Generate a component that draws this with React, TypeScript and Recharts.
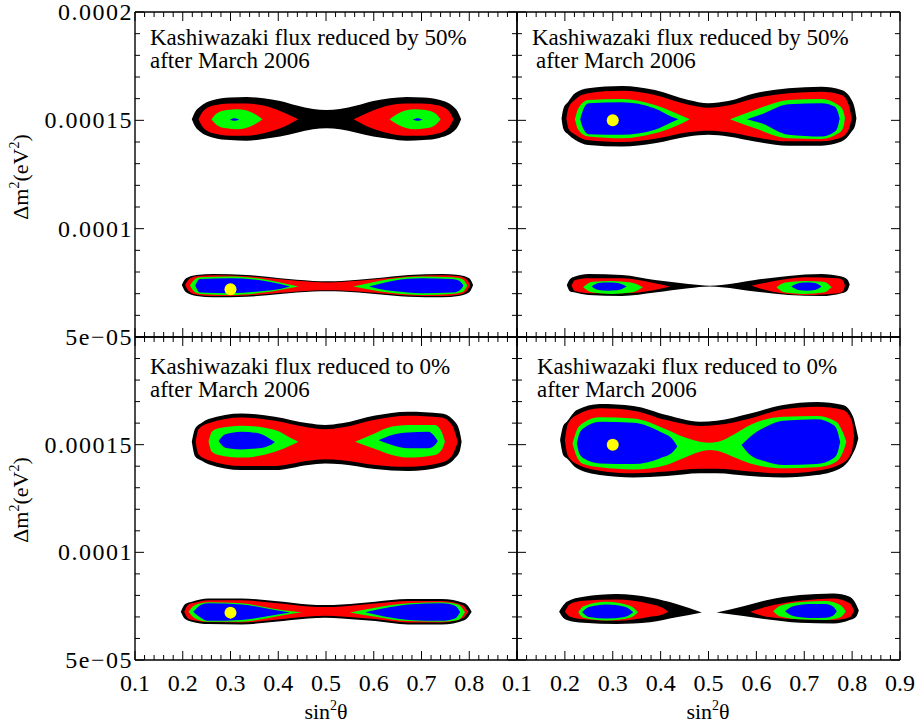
import { ComposedChart, Area, Scatter, XAxis, YAxis } from 'recharts';

const W = 917;
const H = 725;

const BLACK = '#000000';
const RED = '#ff0000';
const GREEN = '#00ff00';
const BLUE = '#0000ff';
const YELLOW = '#ffff00';
const SERIF = '"Liberation Serif", "Times New Roman", Times, serif';

// sin^2(theta) ticks, minor every 0.02
const X_TICKS = [0.1, 0.12, 0.14, 0.16, 0.18, 0.2, 0.22, 0.24, 0.26, 0.28, 0.3, 0.32, 0.34, 0.36, 0.38, 0.4,
  0.42, 0.44, 0.46, 0.48, 0.5, 0.52, 0.54, 0.56, 0.58, 0.6, 0.62, 0.64, 0.66, 0.68, 0.7, 0.72, 0.74, 0.76,
  0.78, 0.8, 0.82, 0.84, 0.86, 0.88, 0.9];
const X_MAJOR = [0.1, 0.2, 0.3, 0.4, 0.5, 0.6, 0.7, 0.8, 0.9];
const X_TICK_LABELS = ['0.1', '0.2', '0.3', '0.4', '0.5', '0.6', '0.7', '0.8', '0.9'];

// delta m^2 in units of 1e-5 eV^2, minor every 1e-5
const Y_TICKS = [5, 6, 7, 8, 9, 10, 11, 12, 13, 14, 15, 16, 17, 18, 19, 20];
const Y_MAJOR = [5, 10, 15, 20];
const Y_TICK_LABELS = ['5e\u221205', '0.0001', '0.00015', '0.0002'];

type Band = [number, number, number]; // [sin²θ, Δm² low, Δm² high]

// ---- top left: reduced by 50% (a) ----
const TL_UP_BLACK: Band[] = [[0.219, 15.05, 15.05], [0.226, 14.71, 15.4], [0.236, 14.48, 15.63], [0.264, 14.2, 15.94], [0.299, 14.09, 16.05], [0.334, 14.06, 16.08], [0.369, 14.14, 16.02], [0.404, 14.25, 15.89], [0.439, 14.43, 15.68], [0.473, 14.59, 15.52], [0.501, 14.63, 15.48], [0.529, 14.59, 15.52], [0.564, 14.43, 15.68], [0.599, 14.25, 15.89], [0.634, 14.14, 16.02], [0.669, 14.06, 16.08], [0.704, 14.09, 16.05], [0.739, 14.2, 15.94], [0.767, 14.48, 15.63], [0.776, 14.71, 15.4], [0.783, 15.05, 15.05]];
const TL_UP_RED_L: Band[] = [[0.233, 15.05, 15.05], [0.243, 14.66, 15.43], [0.264, 14.4, 15.68], [0.299, 14.29, 15.78], [0.334, 14.29, 15.78], [0.369, 14.4, 15.68], [0.404, 14.63, 15.43], [0.442, 15.05, 15.05]];
const TL_UP_RED_R: Band[] = [[0.558, 15.05, 15.05], [0.596, 14.63, 15.43], [0.631, 14.4, 15.68], [0.666, 14.29, 15.78], [0.701, 14.29, 15.78], [0.736, 14.4, 15.68], [0.757, 14.66, 15.43], [0.767, 15.05, 15.05]];
const TL_UP_GREEN_L: Band[] = [[0.26, 15.05, 15.05], [0.271, 14.79, 15.32], [0.292, 14.63, 15.48], [0.313, 14.59, 15.51], [0.334, 14.66, 15.45], [0.351, 14.82, 15.29], [0.367, 15.05, 15.05]];
const TL_UP_GREEN_R: Band[] = [[0.633, 15.05, 15.05], [0.649, 14.82, 15.29], [0.666, 14.66, 15.45], [0.687, 14.59, 15.51], [0.708, 14.63, 15.48], [0.729, 14.79, 15.32], [0.74, 15.05, 15.05]];
const TL_UP_BLUE_L: Band[] = [[0.299, 15.04, 15.04], [0.308, 14.98, 15.1], [0.318, 15.04, 15.04]];
const TL_UP_BLUE_R: Band[] = [[0.682, 15.04, 15.04], [0.692, 14.98, 15.1], [0.702, 15.04, 15.04]];
const TL_LO_BLACK: Band[] = [[0.198, 7.4, 7.4], [0.207, 7.06, 7.71], [0.229, 6.89, 7.86], [0.264, 6.83, 7.91], [0.334, 6.86, 7.86], [0.404, 6.99, 7.71], [0.473, 7.1, 7.59], [0.503, 7.11, 7.57], [0.533, 7.1, 7.59], [0.603, 6.99, 7.71], [0.673, 6.86, 7.86], [0.743, 6.83, 7.91], [0.778, 6.89, 7.86], [0.8, 7.06, 7.71], [0.808, 7.4, 7.4]];
const TL_LO_RED: Band[] = [[0.205, 7.4, 7.4], [0.213, 7.11, 7.66], [0.229, 6.95, 7.8], [0.264, 6.89, 7.85], [0.334, 6.92, 7.8], [0.404, 7.04, 7.66], [0.473, 7.15, 7.54], [0.503, 7.16, 7.52], [0.533, 7.15, 7.54], [0.603, 7.04, 7.66], [0.673, 6.92, 7.8], [0.743, 6.89, 7.85], [0.778, 6.95, 7.8], [0.794, 7.11, 7.66], [0.802, 7.4, 7.4]];
const TL_LO_GREEN_L: Band[] = [[0.215, 7.38, 7.38], [0.226, 7.06, 7.68], [0.236, 6.99, 7.76], [0.299, 6.94, 7.79], [0.369, 7.05, 7.66], [0.404, 7.17, 7.51], [0.442, 7.33, 7.33]];
const TL_LO_GREEN_R: Band[] = [[0.557, 7.33, 7.33], [0.596, 7.17, 7.51], [0.631, 7.05, 7.66], [0.701, 6.94, 7.79], [0.764, 6.99, 7.76], [0.786, 7.08, 7.67], [0.796, 7.38, 7.38]];
const TL_LO_BLUE_L: Band[] = [[0.226, 7.38, 7.38], [0.236, 7.05, 7.68], [0.299, 7.02, 7.71], [0.369, 7.12, 7.6], [0.404, 7.22, 7.45], [0.425, 7.33, 7.33]];
const TL_LO_BLUE_R: Band[] = [[0.59, 7.33, 7.33], [0.611, 7.22, 7.45], [0.641, 7.12, 7.6], [0.701, 7.02, 7.71], [0.764, 7.05, 7.68], [0.779, 7.14, 7.6], [0.788, 7.38, 7.38]];
const TL_BEST: [number, number][] = [[0.3, 7.2]];

// ---- top right: reduced by 50% (b) ----
const TR_UP_BLACK: Band[] = [[0.193, 15.09, 15.09], [0.197, 14.6, 15.55], [0.207, 14.35, 15.86], [0.221, 14.1, 16.25], [0.249, 13.86, 16.48], [0.319, 13.79, 16.59], [0.388, 13.94, 16.4], [0.458, 14.25, 15.94], [0.5, 14.33, 15.79], [0.541, 14.25, 15.89], [0.597, 14.02, 16.25], [0.667, 13.83, 16.48], [0.736, 13.83, 16.55], [0.778, 14.02, 16.4], [0.799, 14.48, 15.94], [0.806, 14.75, 15.5], [0.809, 15.09, 15.09]];
const TR_UP_RED: Band[] = [[0.203, 15.09, 15.09], [0.208, 14.6, 15.6], [0.221, 14.35, 15.95], [0.249, 14.08, 16.25], [0.319, 14.0, 16.36], [0.388, 14.15, 16.17], [0.458, 14.45, 15.72], [0.5, 14.52, 15.58], [0.541, 14.45, 15.68], [0.597, 14.22, 16.02], [0.667, 14.03, 16.25], [0.736, 14.03, 16.32], [0.778, 14.22, 16.17], [0.793, 14.6, 15.7], [0.799, 15.09, 15.09]];
const TR_UP_GREEN_L: Band[] = [[0.221, 15.05, 15.05], [0.228, 14.56, 15.55], [0.249, 14.25, 15.94], [0.319, 14.17, 15.99], [0.388, 14.4, 15.71], [0.437, 14.79, 15.28], [0.461, 15.05, 15.05]];
const TR_UP_GREEN_R: Band[] = [[0.545, 15.05, 15.05], [0.597, 14.63, 15.48], [0.667, 14.17, 15.94], [0.736, 14.14, 15.99], [0.771, 14.4, 15.71], [0.781, 14.65, 15.45], [0.785, 15.1, 15.1]];
const TR_UP_BLUE_L: Band[] = [[0.232, 15.05, 15.05], [0.238, 14.63, 15.48], [0.249, 14.36, 15.79], [0.319, 14.33, 15.83], [0.388, 14.56, 15.55], [0.423, 14.91, 15.17], [0.437, 15.05, 15.05]];
const TR_UP_BLUE_R: Band[] = [[0.58, 15.05, 15.05], [0.611, 14.86, 15.28], [0.667, 14.33, 15.74], [0.736, 14.25, 15.79], [0.764, 14.48, 15.63], [0.77, 14.7, 15.4], [0.774, 15.09, 15.09]];
const TR_LO_BLACK: Band[] = [[0.204, 7.4, 7.4], [0.211, 7.1, 7.68], [0.221, 7.05, 7.79], [0.249, 6.94, 7.91], [0.319, 6.89, 7.86], [0.388, 7.05, 7.63], [0.458, 7.25, 7.45], [0.503, 7.33, 7.37], [0.527, 7.3, 7.4], [0.597, 7.1, 7.63], [0.667, 6.94, 7.82], [0.736, 6.89, 7.91], [0.778, 7.02, 7.79], [0.79, 7.15, 7.65], [0.795, 7.42, 7.42]];
const TR_LO_RED_L: Band[] = [[0.214, 7.38, 7.38], [0.221, 7.12, 7.62], [0.249, 7.02, 7.71], [0.319, 7.02, 7.71], [0.388, 7.17, 7.48], [0.42, 7.33, 7.33]];
const TR_LO_RED_R: Band[] = [[0.59, 7.36, 7.36], [0.632, 7.1, 7.56], [0.702, 6.94, 7.76], [0.771, 7.02, 7.71], [0.781, 7.12, 7.6], [0.785, 7.38, 7.38]];
const TR_LO_GREEN_L: Band[] = [[0.238, 7.3, 7.3], [0.258, 7.05, 7.55], [0.298, 6.99, 7.59], [0.338, 7.05, 7.52], [0.363, 7.3, 7.3]];
const TR_LO_GREEN_R: Band[] = [[0.642, 7.3, 7.3], [0.66, 7.05, 7.52], [0.7, 6.99, 7.59], [0.74, 7.05, 7.55], [0.757, 7.3, 7.3]];
const TR_LO_BLUE_L: Band[] = [[0.256, 7.33, 7.33], [0.27, 7.17, 7.49], [0.29, 7.14, 7.51], [0.31, 7.16, 7.49], [0.329, 7.33, 7.33]];
const TR_LO_BLUE_R: Band[] = [[0.673, 7.33, 7.33], [0.69, 7.16, 7.49], [0.705, 7.14, 7.51], [0.722, 7.17, 7.49], [0.736, 7.33, 7.33]];
const TR_BEST: [number, number][] = [[0.3, 15.0]];

// ---- bottom left: reduced to 0% (a) ----
const BL_UP_BLACK: Band[] = [[0.219, 15.14, 15.14], [0.226, 14.45, 15.75], [0.24, 14.25, 16.02], [0.254, 14.09, 16.19], [0.323, 13.82, 16.45], [0.393, 13.82, 16.3], [0.463, 14.06, 15.99], [0.498, 14.13, 15.91], [0.533, 14.09, 15.99], [0.603, 13.87, 16.35], [0.672, 13.78, 16.53], [0.742, 13.98, 16.45], [0.77, 14.37, 16.07], [0.78, 14.7, 15.6], [0.784, 15.14, 15.14]];
const BL_UP_RED: Band[] = [[0.227, 15.14, 15.14], [0.233, 14.55, 15.72], [0.254, 14.28, 16.0], [0.323, 14.01, 16.26], [0.393, 14.01, 16.11], [0.463, 14.25, 15.8], [0.498, 14.32, 15.72], [0.533, 14.28, 15.8], [0.603, 14.06, 16.16], [0.672, 13.97, 16.34], [0.742, 14.17, 16.26], [0.764, 14.5, 15.9], [0.776, 15.14, 15.14]];
const BL_UP_GREEN_L: Band[] = [[0.254, 15.14, 15.14], [0.261, 14.67, 15.6], [0.275, 14.52, 15.76], [0.323, 14.4, 15.88], [0.393, 14.67, 15.68], [0.428, 14.98, 15.29], [0.442, 15.14, 15.14]];
const BL_UP_GREEN_R: Band[] = [[0.561, 15.14, 15.14], [0.603, 14.8, 15.53], [0.638, 14.52, 15.84], [0.672, 14.4, 15.91], [0.728, 14.52, 15.91], [0.742, 14.75, 15.6], [0.749, 15.14, 15.14]];
const BL_UP_BLUE_L: Band[] = [[0.275, 15.17, 15.17], [0.289, 14.86, 15.48], [0.323, 14.78, 15.6], [0.358, 14.83, 15.53], [0.386, 15.01, 15.22], [0.393, 15.12, 15.12]];
const BL_UP_BLUE_R: Band[] = [[0.61, 15.2, 15.2], [0.638, 14.98, 15.45], [0.672, 14.83, 15.57], [0.714, 14.83, 15.6], [0.728, 14.98, 15.37], [0.734, 15.17, 15.17]];
const BL_LO_BLACK: Band[] = [[0.196, 7.24, 7.24], [0.205, 6.9, 7.6], [0.219, 6.78, 7.71], [0.254, 6.67, 7.86], [0.323, 6.65, 7.86], [0.393, 6.78, 7.74], [0.463, 6.93, 7.58], [0.498, 6.96, 7.55], [0.533, 6.93, 7.58], [0.603, 6.81, 7.71], [0.672, 6.65, 7.83], [0.742, 6.65, 7.83], [0.791, 6.86, 7.63], [0.805, 7.24, 7.24]];
const BL_LO_RED: Band[] = [[0.203, 7.24, 7.24], [0.212, 6.92, 7.58], [0.225, 6.84, 7.66], [0.254, 6.76, 7.77], [0.323, 6.74, 7.77], [0.393, 6.87, 7.65], [0.463, 7.02, 7.49], [0.498, 7.05, 7.46], [0.533, 7.02, 7.49], [0.603, 6.9, 7.62], [0.672, 6.74, 7.74], [0.742, 6.74, 7.74], [0.785, 6.93, 7.56], [0.798, 7.24, 7.24]];
const BL_LO_GREEN_L: Band[] = [[0.212, 7.24, 7.24], [0.226, 6.93, 7.55], [0.254, 6.78, 7.68], [0.323, 6.78, 7.63], [0.393, 7.01, 7.37], [0.428, 7.15, 7.26], [0.449, 7.21, 7.21]];
const BL_LO_GREEN_R: Band[] = [[0.55, 7.21, 7.21], [0.603, 7.01, 7.43], [0.672, 6.81, 7.63], [0.742, 6.78, 7.68], [0.777, 6.86, 7.58], [0.791, 7.22, 7.22]];
const BL_LO_BLUE_L: Band[] = [[0.222, 7.24, 7.24], [0.24, 6.93, 7.58], [0.254, 6.82, 7.63], [0.323, 6.86, 7.58], [0.393, 7.09, 7.32], [0.425, 7.21, 7.21]];
const BL_LO_BLUE_R: Band[] = [[0.582, 7.22, 7.22], [0.638, 6.96, 7.47], [0.672, 6.86, 7.58], [0.742, 6.82, 7.63], [0.77, 6.93, 7.52], [0.781, 7.22, 7.22]];
const BL_BEST: [number, number][] = [[0.3, 7.2]];

// ---- bottom right: reduced to 0% (b) ----
const BR_UP_BLACK: Band[] = [[0.19, 15.22, 15.22], [0.197, 14.5, 15.9], [0.204, 14.37, 16.07], [0.225, 13.9, 16.61], [0.273, 13.59, 16.89], [0.343, 13.48, 16.8], [0.412, 13.54, 16.38], [0.482, 13.67, 16.07], [0.517, 13.67, 16.11], [0.587, 13.54, 16.45], [0.656, 13.48, 16.84], [0.726, 13.59, 16.98], [0.781, 13.98, 16.84], [0.802, 14.6, 16.3], [0.808, 14.9, 15.8], [0.813, 15.29, 15.29]];
const BR_UP_RED: Band[] = [[0.2, 15.22, 15.22], [0.206, 14.5, 15.95], [0.225, 14.1, 16.38], [0.273, 13.79, 16.69], [0.343, 13.67, 16.58], [0.412, 13.75, 16.14], [0.482, 13.88, 15.87], [0.517, 13.88, 15.91], [0.587, 13.75, 16.22], [0.656, 13.67, 16.64], [0.726, 13.79, 16.76], [0.781, 14.16, 16.61], [0.799, 14.67, 16.14], [0.804, 15.4, 15.4]];
const BR_UP_GREEN: Band[] = [[0.216, 15.06, 15.06], [0.225, 14.44, 15.68], [0.239, 14.1, 16.02], [0.273, 13.95, 16.27], [0.343, 13.85, 16.22], [0.412, 14.06, 15.71], [0.447, 14.37, 15.37], [0.482, 14.67, 15.14], [0.503, 14.75, 15.09], [0.531, 14.63, 15.22], [0.559, 14.37, 15.55], [0.587, 14.13, 15.91], [0.656, 13.9, 16.3], [0.726, 13.95, 16.33], [0.767, 14.21, 16.07], [0.781, 14.67, 15.55], [0.788, 15.14, 15.14]];
const BR_UP_BLUE_L: Band[] = [[0.225, 15.06, 15.06], [0.23, 14.6, 15.5], [0.239, 14.37, 15.76], [0.273, 14.13, 16.07], [0.343, 14.1, 16.02], [0.399, 14.37, 15.6], [0.426, 14.67, 15.22], [0.435, 14.91, 14.91]];
const BR_UP_BLUE_R: Band[] = [[0.569, 14.98, 14.98], [0.587, 14.52, 15.37], [0.621, 14.21, 15.84], [0.656, 14.06, 16.11], [0.726, 14.1, 16.18], [0.761, 14.37, 15.91], [0.769, 14.6, 15.65], [0.775, 15.14, 15.14]];
const BR_LO_BLACK_L: Band[] = [[0.188, 7.24, 7.24], [0.197, 6.95, 7.55], [0.204, 6.86, 7.71], [0.239, 6.73, 7.94], [0.308, 6.67, 8.06], [0.378, 6.75, 7.9], [0.433, 6.98, 7.6], [0.486, 7.21, 7.21]];
const BR_LO_BLACK_R: Band[] = [[0.517, 7.21, 7.21], [0.573, 7.04, 7.5], [0.621, 6.89, 7.78], [0.691, 6.73, 8.02], [0.761, 6.7, 8.09], [0.795, 6.86, 7.94], [0.808, 7.0, 7.6], [0.814, 7.3, 7.3]];
const BR_LO_RED_L: Band[] = [[0.2, 7.24, 7.24], [0.211, 7.01, 7.6], [0.239, 6.89, 7.75], [0.308, 6.82, 7.81], [0.378, 7.01, 7.6], [0.406, 7.13, 7.4], [0.416, 7.24, 7.24]];
const BR_LO_RED_R: Band[] = [[0.587, 7.24, 7.24], [0.621, 7.01, 7.47], [0.691, 6.89, 7.75], [0.761, 6.86, 7.86], [0.795, 6.98, 7.63], [0.804, 7.3, 7.3]];
const BR_LO_GREEN_L: Band[] = [[0.228, 7.22, 7.22], [0.239, 6.96, 7.5], [0.287, 6.84, 7.7], [0.336, 6.96, 7.52], [0.353, 7.22, 7.22]];
const BR_LO_GREEN_R: Band[] = [[0.635, 7.26, 7.26], [0.65, 7.02, 7.52], [0.7, 6.88, 7.7], [0.745, 6.86, 7.74], [0.775, 6.98, 7.56], [0.787, 7.26, 7.26]];
const BR_LO_BLUE_L: Band[] = [[0.236, 7.22, 7.22], [0.25, 7.0, 7.46], [0.287, 6.93, 7.58], [0.325, 7.0, 7.47], [0.343, 7.22, 7.22]];
const BR_LO_BLUE_R: Band[] = [[0.66, 7.26, 7.26], [0.675, 7.05, 7.48], [0.71, 6.95, 7.6], [0.745, 6.96, 7.6], [0.76, 7.05, 7.48], [0.768, 7.26, 7.26]];
const BR_BEST: [number, number][] = [[0.3, 15.0]];

const TITLE_50 = ['Kashiwazaki flux reduced by 50%', 'after March 2006'];
const TITLE_0 = ['Kashiwazaki flux reduced to 0%', 'after March 2006'];

type Layer = { data: Band[]; color: string };
type PanelCfg = {
  frame: { left: number; top: number; right: number; bottom: number }; // plot edges in page pixels
  layers: Layer[];
  best: [number, number][];
  xLabels: string[];
  yLabels: string[];
};

const PANELS: PanelCfg[] = [
  {
    frame: { left: 135, top: 12, right: 517, bottom: 337 },
    layers: [
      { data: TL_UP_BLACK, color: BLACK }, { data: TL_UP_RED_L, color: RED }, { data: TL_UP_RED_R, color: RED },
      { data: TL_UP_GREEN_L, color: GREEN }, { data: TL_UP_GREEN_R, color: GREEN },
      { data: TL_UP_BLUE_L, color: BLUE }, { data: TL_UP_BLUE_R, color: BLUE },
      { data: TL_LO_BLACK, color: BLACK }, { data: TL_LO_RED, color: RED },
      { data: TL_LO_GREEN_L, color: GREEN }, { data: TL_LO_GREEN_R, color: GREEN },
      { data: TL_LO_BLUE_L, color: BLUE }, { data: TL_LO_BLUE_R, color: BLUE },
    ],
    best: TL_BEST,
    xLabels: [],
    yLabels: ['5e\u221205', '0.0001', '0.00015', '0.0002'],
  },
  {
    frame: { left: 517, top: 12, right: 900, bottom: 337 },
    layers: [
      { data: TR_UP_BLACK, color: BLACK }, { data: TR_UP_RED, color: RED },
      { data: TR_UP_GREEN_L, color: GREEN }, { data: TR_UP_GREEN_R, color: GREEN },
      { data: TR_UP_BLUE_L, color: BLUE }, { data: TR_UP_BLUE_R, color: BLUE },
      { data: TR_LO_BLACK, color: BLACK }, { data: TR_LO_RED_L, color: RED }, { data: TR_LO_RED_R, color: RED },
      { data: TR_LO_GREEN_L, color: GREEN }, { data: TR_LO_GREEN_R, color: GREEN },
      { data: TR_LO_BLUE_L, color: BLUE }, { data: TR_LO_BLUE_R, color: BLUE },
    ],
    best: TR_BEST,
    xLabels: [],
    yLabels: [],
  },
  {
    frame: { left: 135, top: 337, right: 517, bottom: 660 },
    layers: [
      { data: BL_UP_BLACK, color: BLACK }, { data: BL_UP_RED, color: RED },
      { data: BL_UP_GREEN_L, color: GREEN }, { data: BL_UP_GREEN_R, color: GREEN },
      { data: BL_UP_BLUE_L, color: BLUE }, { data: BL_UP_BLUE_R, color: BLUE },
      { data: BL_LO_BLACK, color: BLACK }, { data: BL_LO_RED, color: RED },
      { data: BL_LO_GREEN_L, color: GREEN }, { data: BL_LO_GREEN_R, color: GREEN },
      { data: BL_LO_BLUE_L, color: BLUE }, { data: BL_LO_BLUE_R, color: BLUE },
    ],
    best: BL_BEST,
    xLabels: ['0.1', '0.2', '0.3', '0.4', '0.5', '0.6', '0.7', '0.8'],
    yLabels: ['5e\u221205', '0.0001', '0.00015'],
  },
  {
    frame: { left: 517, top: 337, right: 900, bottom: 660 },
    layers: [
      { data: BR_UP_BLACK, color: BLACK }, { data: BR_UP_RED, color: RED }, { data: BR_UP_GREEN, color: GREEN },
      { data: BR_UP_BLUE_L, color: BLUE }, { data: BR_UP_BLUE_R, color: BLUE },
      { data: BR_LO_BLACK_L, color: BLACK }, { data: BR_LO_BLACK_R, color: BLACK },
      { data: BR_LO_RED_L, color: RED }, { data: BR_LO_RED_R, color: RED },
      { data: BR_LO_GREEN_L, color: GREEN }, { data: BR_LO_GREEN_R, color: GREEN },
      { data: BR_LO_BLUE_L, color: BLUE }, { data: BR_LO_BLUE_R, color: BLUE },
    ],
    best: BR_BEST,
    xLabels: X_TICK_LABELS,
    yLabels: [],
  },
];

const toBand = (rows: Band[]) => rows.map(([x, lo, hi]) => ({ x, y: [lo, hi] }));

const AXIS_LINE = { stroke: BLACK, strokeWidth: 1.4 };
const TICK_FONT = { fontFamily: SERIF, fontSize: 24, fill: BLACK };

// ticks point into the frame; majors longer, labels only where the panel shows them
function tickRenderer(side: 'bottom' | 'top' | 'left' | 'right', shown: string[]) {
  return (p: any) => {
    const v = p.payload.value;
    const horiz = side === 'bottom' || side === 'top';
    const majors = horiz ? X_MAJOR : Y_MAJOR;
    const names = horiz ? X_TICK_LABELS : Y_TICK_LABELS;
    const i = majors.findIndex((m) => Math.abs(m - v) < 1e-6);
    const len = i >= 0 ? 9 : 5;
    const dx = side === 'left' ? 1 : side === 'right' ? -1 : 0;
    const dy = side === 'bottom' ? -1 : side === 'top' ? 1 : 0;
    const label = i >= 0 && shown.includes(names[i]) ? names[i] : null;
    return (
      <g>
        <line x1={p.x} y1={p.y} x2={p.x + dx * len} y2={p.y + dy * len} stroke={BLACK} strokeWidth={1} />
        {label && side === 'bottom' && (
          <text x={p.x} y={p.y + 31} textAnchor="middle" {...TICK_FONT}>{label}</text>
        )}
        {label && side === 'left' && (
          <text x={p.x - 2} y={p.y + 8} textAnchor="end" letterSpacing={1.5} {...TICK_FONT}>{label}</text>
        )}
      </g>
    );
  };
}

function Panel({ cfg }: { cfg: PanelCfg }) {
  const f = cfg.frame;
  // each axis takes 1px, so the margins stop 1px short of the frame
  const margin = { left: f.left - 1, top: f.top - 1, right: W - f.right - 1, bottom: H - f.bottom - 1 };
  return (
    <div style={{ position: 'absolute', left: 0, top: 0 }}>
      <ComposedChart width={W} height={H} margin={margin}>
        <XAxis type="number" dataKey="x" domain={[0.1, 0.9]} allowDataOverflow ticks={X_TICKS} interval={0}
          height={1} tickSize={0} tickMargin={0} tickLine={false} axisLine={AXIS_LINE}
          tick={tickRenderer('bottom', cfg.xLabels)} />
        <XAxis xAxisId="top" orientation="top" type="number" dataKey="x" domain={[0.1, 0.9]} allowDataOverflow
          ticks={X_TICKS} interval={0} height={1} tickSize={0} tickMargin={0} tickLine={false} axisLine={AXIS_LINE}
          tick={tickRenderer('top', [])} />
        <YAxis type="number" dataKey="y" domain={[5, 20]} allowDataOverflow ticks={Y_TICKS} interval={0}
          width={1} tickSize={0} tickMargin={0} tickLine={false} axisLine={AXIS_LINE}
          tick={tickRenderer('left', cfg.yLabels)} />
        <YAxis yAxisId="right" orientation="right" type="number" domain={[5, 20]} allowDataOverflow ticks={Y_TICKS}
          interval={0} width={1} tickSize={0} tickMargin={0} tickLine={false} axisLine={AXIS_LINE}
          tick={tickRenderer('right', [])} />
        {cfg.layers.map((l, i) => (
          <Area key={i} data={toBand(l.data)} dataKey="y" type="monotone" stroke="none" fill={l.color}
            fillOpacity={1} dot={false} activeDot={false} isAnimationActive={false} />
        ))}
        <Scatter data={cfg.best.map(([x, y]) => ({ x, y }))} dataKey="y" isAnimationActive={false}
          shape={(s: any) => <circle cx={s.cx} cy={s.cy} r={6} fill={YELLOW} />} />
      </ComposedChart>
    </div>
  );
}

export default function App() {
  const titleStyle = { fontFamily: SERIF, fontSize: 23, fill: BLACK };
  const axisTitle = { fontFamily: SERIF, fontSize: 22, fill: BLACK };
  return (
    <div style={{ position: 'absolute', left: 0, top: 0, width: W, height: H, background: '#fff' }}>
      {PANELS.map((p, i) => <Panel key={i} cfg={p} />)}
      <svg width={W} height={H} style={{ position: 'absolute', left: 0, top: 0, pointerEvents: 'none' }}>
        <text x={150} y={45} {...titleStyle}>{TITLE_50[0]}</text>
        <text x={150} y={68} {...titleStyle}>{TITLE_50[1]}</text>
        <text x={532} y={45} {...titleStyle}>{TITLE_50[0]}</text>
        <text x={536} y={68} {...titleStyle}>{TITLE_50[1]}</text>
        <text x={150} y={374} {...titleStyle}>{TITLE_0[0]}</text>
        <text x={150} y={397} {...titleStyle}>{TITLE_0[1]}</text>
        <text x={537} y={374} {...titleStyle}>{TITLE_0[0]}</text>
        <text x={537} y={397} {...titleStyle}>{TITLE_0[1]}</text>
        {[177, 500].map((cy) => (
          <text key={cy} transform={`translate(28,${cy}) rotate(-90)`} textAnchor="middle" {...axisTitle}>
            {'\u0394m'}<tspan dy={-9} fontSize={14}>2</tspan><tspan dy={9}>(eV</tspan>
            <tspan dy={-9} fontSize={14}>2</tspan><tspan dy={9}>)</tspan>
          </text>
        ))}
        {[326, 708].map((cx) => (
          <text key={cx} x={cx} y={719} textAnchor="middle" {...axisTitle}>
            sin<tspan dy={-9} fontSize={14}>2</tspan><tspan dy={9}>{'\u03b8'}</tspan>
          </text>
        ))}
      </svg>
    </div>
  );
}
